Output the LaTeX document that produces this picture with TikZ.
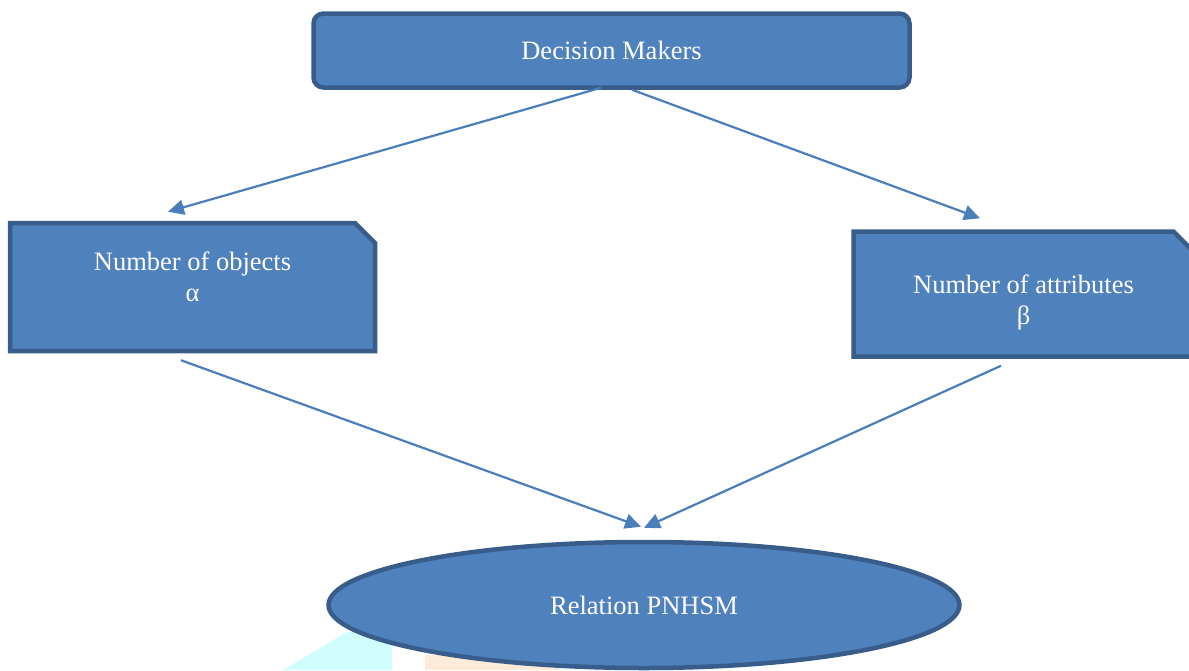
\documentclass[tikz,border=0pt]{standalone}
\usepackage{fontspec}
\setmainfont{Liberation Serif}
\definecolor{dmfill}{HTML}{4F81BD}
\definecolor{dmborder}{HTML}{385D8A}
\definecolor{dmarrow}{HTML}{4A7EBB}
\definecolor{wmcyan}{HTML}{D0FEFE}
\definecolor{wmpeach}{HTML}{FDEBDA}
\usetikzlibrary{shapes.geometric,shapes.misc,arrows.meta}

\begin{document}
\begin{tikzpicture}[x=1pt, y=-1pt,
  every node/.style={font=\fontsize{26.5}{31}\selectfont},
  topbox/.style={draw=dmborder, fill=dmfill, rounded corners=10pt,
                 line width=4.5pt, text=white, minimum width=596pt,
                 minimum height=74pt},
  snipbox/.style={draw=dmborder, fill=dmfill, chamfered rectangle,
                  chamfered rectangle corners=north east,
                  chamfered rectangle xsep=10pt, chamfered rectangle ysep=10pt,
                  line width=4.5pt, text=white, align=center,
                  inner sep=0pt},
  result/.style={draw=dmborder, fill=dmfill, ellipse, line width=4.5pt,
                 text=white, minimum width=631pt, minimum height=126pt,
                 inner sep=0pt},
  link/.style={draw=dmarrow, line width=2.2pt,
               -{Triangle[length=16pt, width=15pt]}}
]

%% Page frame
\useasboundingbox (0,0) rectangle (1189,670);

%% Watermark traces
\fill[wmcyan] (283,670) -- (347,632) -- (392,632) -- (392,670) -- cycle;
\fill[wmpeach] (425,655) rectangle (560,670);

%% Boxes
\node[topbox] (dm) at (611.5,50.5) {Decision Makers};
\node[snipbox, minimum width=365pt, minimum height=128pt, text depth=20pt]
  (obj) at (192.5,287) {Number of objects\\α};
\node[snipbox, minimum width=340pt, minimum height=125pt, text height=66pt]
  (att) at (1023.5,294) {Number of attributes\\β};
\node[result] (rel) at (644,605) {Relation PNHSM};

%% Arrows
\draw[link] ([xshift=-10.5pt, yshift=2pt]dm.south)
  -- ([xshift=-24.5pt, yshift=9pt]obj.north);
\draw[link] ([xshift=20.5pt]dm.south)
  -- ([xshift=-43.5pt, yshift=11pt]att.north);
\draw[link] ([xshift=-11.5pt, yshift=-7pt]obj.south)
  -- ([xshift=-3pt, yshift=13pt]rel.north);
\draw[link] ([xshift=-22.5pt, yshift=-7pt]att.south)
  -- ([yshift=12pt]rel.north);

\end{tikzpicture}
\end{document}
